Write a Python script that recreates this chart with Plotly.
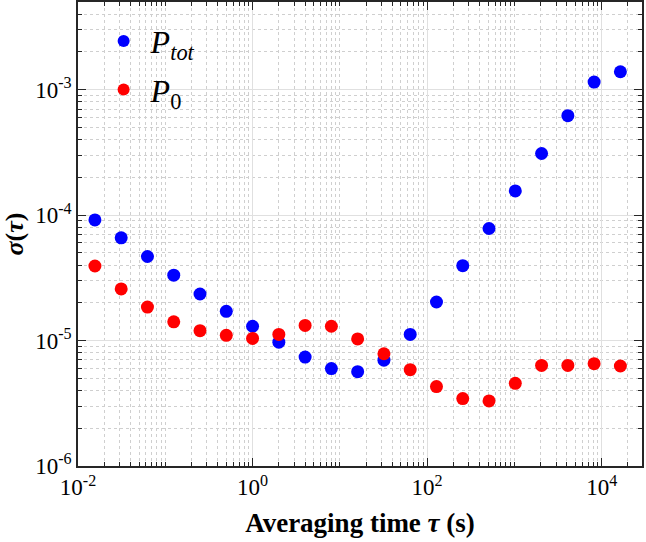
import plotly.graph_objects as go

# averaging times tau = 2^k, k = -6..14
k_exp = list(range(-6, 15))
tau = [2.0 ** k for k in k_exp]

p_tot = [9.16e-5, 6.59e-5, 4.68e-5, 3.32e-5, 2.35e-5, 1.71e-5, 1.30e-5, 9.71e-6,
         7.38e-6, 5.98e-6, 5.65e-6, 6.98e-6, 1.12e-5, 2.03e-5, 3.95e-5, 7.82e-5,
         1.56e-4, 3.10e-4, 6.21e-4, 1.15e-3, 1.39e-3]
p_0 = [3.93e-5, 2.58e-5, 1.85e-5, 1.41e-5, 1.20e-5, 1.10e-5, 1.04e-5, 1.12e-5,
       1.32e-5, 1.30e-5, 1.03e-5, 7.85e-6, 5.86e-6, 4.30e-6, 3.45e-6, 3.30e-6,
       4.56e-6, 6.34e-6, 6.34e-6, 6.54e-6, 6.27e-6]

x_tickvals = [1e-2, 1e0, 1e2, 1e4]
x_ticktext = ["10<sup>-2</sup>", "10<sup>0</sup>", "10<sup>2</sup>", "10<sup>4</sup>"]
y_tickvals = [1e-6, 1e-5, 1e-4, 1e-3]
y_ticktext = ["10<sup>-6</sup>", "10<sup>-5</sup>", "10<sup>-4</sup>", "10<sup>-3</sup>"]

FONT = "Times New Roman, Liberation Serif, DejaVu Serif, serif"

fig = go.Figure()
fig.add_trace(go.Scatter(x=tau, y=p_tot, mode="markers", name="<i>P</i><sub><i>tot</i></sub>",
                         marker=dict(color="#0000ff", size=13), legendgroup="a"))
fig.add_trace(go.Scatter(x=tau, y=p_0, mode="markers", name="<i>P</i><sub>0</sub>",
                         marker=dict(color="#ff0000", size=13), legendgroup="b"))

axis_common = dict(
    type="log", showline=True, linecolor="#262626", linewidth=1.5, mirror="ticks",
    ticks="inside", ticklen=8, tickwidth=1, tickcolor="#262626", automargin=False,
    showgrid=True, gridcolor="#e0e0e0", gridwidth=1, zeroline=False,
    tickfont=dict(family=FONT, size=23, color="#000000"),
    minor=dict(dtick="D1", ticks="inside", ticklen=4, tickcolor="#262626",
               showgrid=True, gridcolor="#cfcfcf", griddash="dot", gridwidth=1),
)

fig.update_xaxes(**axis_common, tickmode="array", tickvals=x_tickvals, ticktext=x_ticktext,
                 range=[-2, 4.462],
                 title=dict(text="<b>Averaging time <i>τ</i> (s)</b>",
                            font=dict(family=FONT, size=27, color="#000000"), standoff=14))
fig.update_yaxes(**axis_common, tickmode="array", tickvals=y_tickvals, ticktext=y_ticktext,
                 range=[-6, -2.301],
                 title=dict(text="<b><i>σ</i>(<i>τ</i>)</b>",
                            font=dict(family=FONT, size=26, color="#000000"), standoff=8))

fig.update_layout(
    width=646, height=542,
    margin=dict(l=78, r=4, t=2, b=76),
    plot_bgcolor="#ffffff", paper_bgcolor="#ffffff",
    showlegend=True,
    font=dict(family=FONT),
    legend=dict(x=0.033, y=0.975, xanchor="left", yanchor="top",
                bgcolor="rgba(0,0,0,0)", borderwidth=0, tracegroupgap=4,
                itemwidth=44,
                font=dict(family=FONT, size=32, color="#000000"),
                itemsizing="constant"),
)

fig.write_html("out.html")
